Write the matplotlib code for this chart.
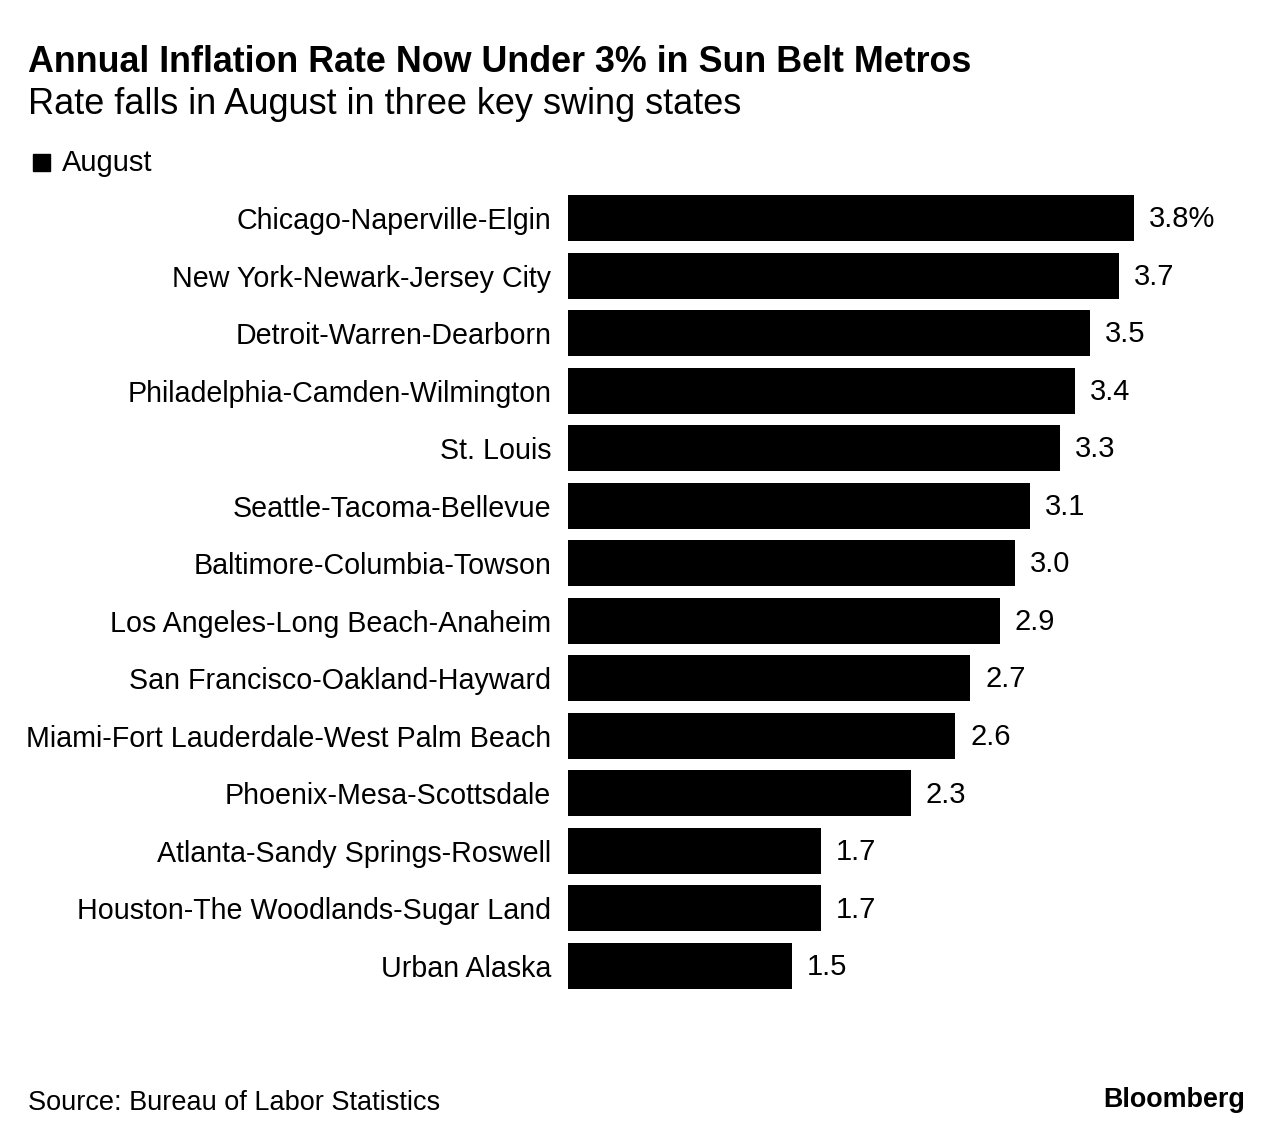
import matplotlib.pyplot as plt
from matplotlib.patches import Rectangle

METROS = [
    "Chicago-Naperville-Elgin",
    "New York-Newark-Jersey City",
    "Detroit-Warren-Dearborn",
    "Philadelphia-Camden-Wilmington",
    "St. Louis",
    "Seattle-Tacoma-Bellevue",
    "Baltimore-Columbia-Towson",
    "Los Angeles-Long Beach-Anaheim",
    "San Francisco-Oakland-Hayward",
    "Miami-Fort Lauderdale-West Palm Beach",
    "Phoenix-Mesa-Scottsdale",
    "Atlanta-Sandy Springs-Roswell",
    "Houston-The Woodlands-Sugar Land",
    "Urban Alaska",
]
AUGUST = [3.8, 3.7, 3.5, 3.4, 3.3, 3.1, 3.0, 2.9, 2.7, 2.6, 2.3, 1.7, 1.7, 1.5]

W, H = 1284, 1144
plt.rcParams['font.family'] = ['Liberation Sans', 'DejaVu Sans']

fig = plt.figure(figsize=(W / 100, H / 100), dpi=100)
fig.patch.set_facecolor('white')

ax_left = 568 / W
ax_right = 1250 / W
ax_top = 1 - 189.25 / H
ax_bottom = 1 - 994.75 / H
ax = fig.add_axes([ax_left, ax_bottom, ax_right - ax_left, ax_top - ax_bottom])

ypos = list(range(len(METROS)))
ax.barh(ypos, AUGUST, height=0.8, color='black')
ax.set_xlim(0, (1250 - 568) / 149)
ax.set_ylim(len(METROS) - 0.5, -0.5)
ax.set_yticks(ypos)
ax.set_yticklabels(METROS, fontsize=20.6)
ax.tick_params(axis='y', length=0, pad=12)
ax.set_xticks([])
for s in ax.spines.values():
    s.set_visible(False)

for i, v in enumerate(AUGUST):
    txt = f"{v:.1f}%" if i == 0 else f"{v:.1f}"
    ax.text(v + 0.1, i + 0.02, txt, va='center', ha='left', fontsize=21)

fig.text(28 / W, 1 - 63 / H, "Annual Inflation Rate Now Under 3% in Sun Belt Metros",
         fontsize=25.8, fontweight='bold', va='center', ha='left')
fig.text(28 / W, 1 - 104 / H, "Rate falls in August in three key swing states",
         fontsize=26, va='center', ha='left')

fig.patches.append(Rectangle((33 / W, 1 - 171 / H), 17 / W, 17 / H,
                             transform=fig.transFigure, color='black'))
fig.text(62 / W, 1 - 163 / H, "August", fontsize=21, va='center', ha='left')

fig.text(28 / W, 1 - 1103 / H, "Source: Bureau of Labor Statistics",
         fontsize=19.5, va='center', ha='left')
fig.text(1245 / W, 1 - 1100 / H, "Bloomberg", fontsize=19.4, fontweight='bold',
         va='center', ha='right')

fig.savefig("out.png", dpi=100)
